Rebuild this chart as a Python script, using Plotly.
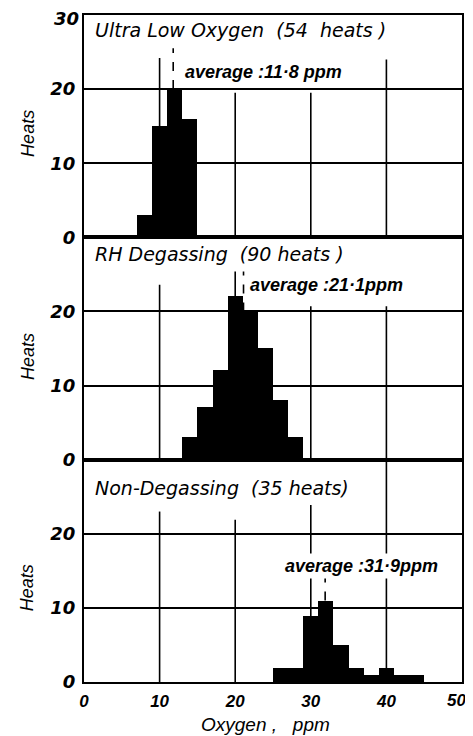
import plotly.graph_objects as go
from plotly.subplots import make_subplots

# ---------------- data ----------------
ULO_EDGES = [7, 9, 11, 13, 15]
ULO_COUNTS = [3, 15, 20, 16]
RH_EDGES = [13, 15, 17, 19, 21, 23, 25, 27, 29]
RH_COUNTS = [3, 7, 12, 22, 20, 15, 8, 3]
ND_EDGES = [25, 27, 29, 31, 33, 35, 37, 39, 41, 43, 45]
ND_COUNTS = [2, 2, 9, 11, 5, 2, 1, 2, 1, 1]

PANEL_TITLES = ["Ultra Low Oxygen  (54  heats )",
                "RH Degassing  (90 heats )",
                "Non-Degassing  (35 heats)"]
AVERAGES = [11.8, 21.1, 31.9]
AVG_LABELS = ["average :11·8 ppm", "average :21·1ppm", "average :31·9ppm"]
X_TICKS = [0, 10, 20, 30, 40]
X_TICK_END = 50
Y_TICKS = [0, 10, 20]
Y_TICK_END = 30
Y_TITLE = "Heats"
X_TITLE = "Oxygen ,   ppm"

# ---------------- styling ----------------
FONT = "Liberation Sans"
VGRID_X = [10, 20, 30, 40]
VGRID_TOP = [[24.2, 19.5, 19.5, 24.0],
             [23.6, 25.4, 20.7, 20.7],
             [23.0, 21.9, 23.9, 30.0]]
TITLE_Y = [28.0, 27.7, 26.2]
AVG_LABEL_X = [13.0, 21.5, 26.2]
AVG_LABEL_Y = [22.3, 23.6, 15.7]
AVG_LINE_TOP = [25.5, 25.4, 14.3]
HEATS_Y = [14.0, 13.9, 12.7]

panels = [(ULO_EDGES, ULO_COUNTS), (RH_EDGES, RH_COUNTS), (ND_EDGES, ND_COUNTS)]

fig = make_subplots(rows=3, cols=1, shared_xaxes=True, vertical_spacing=0)

ytick_font = dict(family="DejaVu Sans", size=18, color="black", weight="bold", style="italic")
xtick_font = dict(family=FONT, size=17, color="black", weight="bold", style="italic")

for i, (edges, counts) in enumerate(panels):
    row = i + 1
    centers = [(a + b) / 2 for a, b in zip(edges[:-1], edges[1:])]
    widths = [b - a for a, b in zip(edges[:-1], edges[1:])]
    fig.add_trace(go.Bar(x=centers, y=counts, width=widths,
                         marker=dict(color="black", line=dict(width=0)),
                         showlegend=False, hoverinfo="x+y"), row=row, col=1)
    xref = "x" if row == 1 else f"x{row}"
    yref = "y" if row == 1 else f"y{row}"

    # vertical grid lines
    for gx, top in zip(VGRID_X, VGRID_TOP[i]):
        fig.add_shape(type="line", xref=xref, yref=yref, x0=gx, x1=gx, y0=0, y1=top,
                      line=dict(color="black", width=1.6), layer="below")

    # average dashed line, from the top of the bar containing the average
    avg = AVERAGES[i]
    base = 0
    for a, b, c in zip(edges[:-1], edges[1:], counts):
        if a <= avg < b:
            base = c
    fig.add_shape(type="line", xref=xref, yref=yref, x0=avg, x1=avg, y0=base,
                  y1=AVG_LINE_TOP[i], line=dict(color="black", width=1.6, dash="dash"),
                  layer="above")

    # panel title
    fig.add_annotation(xref=xref, yref=yref, x=1.2, y=TITLE_Y[i], text=PANEL_TITLES[i],
                       showarrow=False, xanchor="left", yanchor="middle",
                       font=dict(family="DejaVu Sans", size=19, color="black", style="italic"))
    # average label
    fig.add_annotation(xref=xref, yref=yref, x=AVG_LABEL_X[i], y=AVG_LABEL_Y[i],
                       text=AVG_LABELS[i], showarrow=False, xanchor="left", yanchor="middle",
                       bgcolor="white", borderpad=2,
                       font=dict(family=FONT, size=18, color="black", weight="bold", style="italic"))
    # y title
    fig.add_annotation(xref="paper", yref=yref, x=-0.15, y=HEATS_Y[i], text=Y_TITLE,
                       showarrow=False, textangle=-90, xanchor="center", yanchor="middle",
                       font=dict(family=FONT, size=18, color="black", style="italic"))

    fig.update_yaxes(row=row, col=1, range=[0, 30], automargin=False,
                     tickvals=Y_TICKS, ticktext=[str(v) for v in Y_TICKS],
                     showgrid=True, gridcolor="black", gridwidth=1.6,
                     zeroline=False, showline=True, mirror=True, linecolor="black",
                     linewidth=2, ticks="", ticklabelstandoff=3, ticklabeloverflow="allow",
                     tickfont=ytick_font)
    fig.update_xaxes(row=row, col=1, range=[0, 50], tickvals=X_TICKS, automargin=False,
                     showgrid=False, zeroline=False, showline=True, mirror=True,
                     linecolor="black", linewidth=2, ticks="", ticklabeloverflow="allow",
                     showticklabels=(row == 3), ticklabelstandoff=3, tickfont=xtick_font)

# end-of-axis tick labels, nudged inwards the way the reference prints them
fig.add_annotation(xref="paper", yref="y", x=0, y=Y_TICK_END, text=str(Y_TICK_END),
                   showarrow=False, xanchor="right", yanchor="middle", xshift=-3, yshift=-3,
                   font=ytick_font)
fig.add_annotation(xref="x3", yref="paper", x=X_TICK_END, y=0, text=str(X_TICK_END),
                   showarrow=False, xanchor="center", yanchor="middle", xshift=-6, yshift=-18,
                   font=xtick_font)

fig.add_annotation(xref="paper", yref="paper", x=0.48, y=-0.063, text=X_TITLE,
                   showarrow=False, xanchor="center", yanchor="middle",
                   font=dict(family=FONT, size=19, color="black", style="italic"))

# the page body adds an 8px offset; margins compensate so the plot lands where the reference has it
fig.update_layout(width=473, height=736, margin=dict(l=76, r=19, t=7, b=62, autoexpand=False),
                  plot_bgcolor="white", paper_bgcolor="white", bargap=0)

fig.write_html("out.html")
